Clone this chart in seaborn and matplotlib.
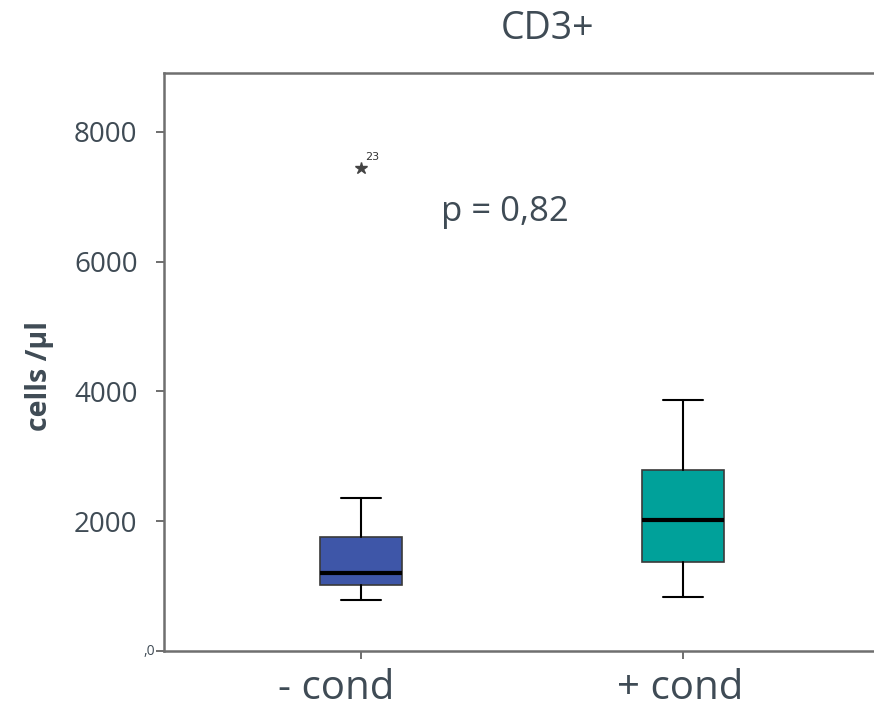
import matplotlib.pyplot as plt
import matplotlib.transforms as mtransforms
import seaborn as sns

# Data
groups = ["- cond", "+ cond"]
whisker_low = [786, 837]
q1 = [1017, 1371]
median = [1202, 2018]
q3 = [1761, 2789]
whisker_high = [2353, 3867]
fliers = [[7442], []]
flier_labels = [["23"], []]
colors = ["#3E56A8", "#00A19A"]

y_ticks = [0, 2000, 4000, 6000, 8000]
y_tick_labels = [",0", "2000", "4000", "6000", "8000"]
title = "CD3+"
p_text = "p = 0,82"

TEXT_COLOR = "#3F4B55"

sns.set_theme(style="white")
plt.rcParams["font.family"] = ["Open Sans", "DejaVu Sans"]

fig = plt.figure(figsize=(8.74, 7.17), dpi=100)
ax = fig.add_axes([0.1876, 0.092, 0.8124, 0.806])

stats = []
for i, g in enumerate(groups):
    stats.append(
        {
            "label": g,
            "whislo": whisker_low[i],
            "q1": q1[i],
            "med": median[i],
            "q3": q3[i],
            "whishi": whisker_high[i],
            "fliers": fliers[i],
        }
    )

bp = ax.bxp(
    stats,
    positions=range(len(groups)),
    widths=0.252,
    patch_artist=True,
    showfliers=True,
    boxprops=dict(edgecolor="#3a3a3a", linewidth=1.2),
    medianprops=dict(color="black", linewidth=3),
    whiskerprops=dict(color="black", linewidth=1.5),
    capprops=dict(color="black", linewidth=1.5),
    capwidths=0.127,
    flierprops=dict(marker="*", markersize=9, markerfacecolor="#444444",
                    markeredgecolor="#444444", linestyle="none"),
)
for patch, c in zip(bp["boxes"], colors):
    patch.set_facecolor(c)

# Outlier case labels
for i, labs in enumerate(flier_labels):
    for val, lab in zip(fliers[i], labs):
        ax.annotate(lab, xy=(i, val), xytext=(3, 6), textcoords="offset points",
                    fontsize=8, color="#333333", family="DejaVu Sans")

ax.set_xlim(-0.612, 1.593)
ax.set_ylim(0, 8906)

# The zero label is small and sits right next to the axis, so draw it apart
ax.set_yticks(y_ticks)
ax.set_yticklabels(["" if lab == ",0" else lab for lab in y_tick_labels],
                   fontsize=20, color=TEXT_COLOR)
ytrans = mtransforms.blended_transform_factory(ax.transAxes, ax.transData)
ytrans = ytrans + mtransforms.ScaledTranslation(-0.09, 0, fig.dpi_scale_trans)
for val, lab in zip(y_ticks, y_tick_labels):
    if lab == ",0":
        ax.text(0, val, lab, transform=ytrans, fontsize=10, color=TEXT_COLOR,
                ha="right", va="center")

# Category labels (the first one sits a bit left of its tick in the original)
label_shift = [-0.078, -0.01]
ax.set_xticks(range(len(groups)))
ax.set_xticklabels([])
trans = mtransforms.blended_transform_factory(ax.transData, ax.transAxes)
for i, g in enumerate(groups):
    ax.text(i + label_shift[i], -0.066, g, transform=trans, fontsize=29,
            color=TEXT_COLOR, ha="center", va="center")

ax.tick_params(axis="y", direction="out", length=6, width=1.2, color="#555555",
               left=True, pad=13)
ax.tick_params(axis="x", direction="out", length=6, width=1.2, color="#555555",
               bottom=True)

for side in ["left", "top", "bottom"]:
    ax.spines[side].set_visible(True)
    ax.spines[side].set_color("#6f6f6f")
    ax.spines[side].set_linewidth(1.8)
ax.spines["right"].set_visible(False)

fig.text(40 / 874, 1 - 376 / 717, "cells /µl", fontsize=20.5, fontweight="bold",
         color=TEXT_COLOR, rotation=90, ha="center", va="center")

fig.text(548 / 874, 1 - 29 / 717, title, fontsize=27, color=TEXT_COLOR,
         ha="center", va="center")
fig.text(505 / 874, 1 - 212 / 717, p_text, fontsize=25, color=TEXT_COLOR,
         ha="center", va="center")

fig.savefig("out.png", dpi=100)
